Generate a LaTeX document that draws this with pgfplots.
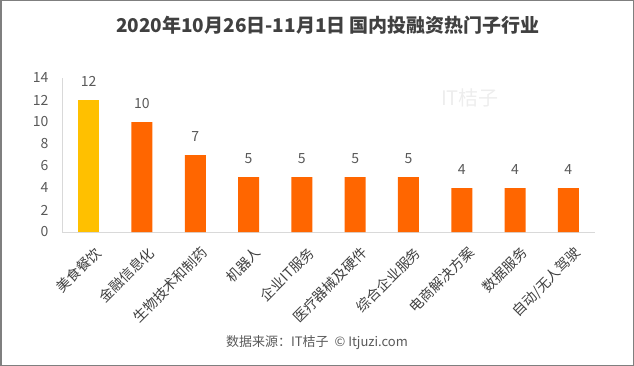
\documentclass[border=0pt]{standalone}
\usepackage{pgfplots}
\pgfplotsset{compat=1.18}
\usepackage{fontspec}
\setmainfont{Noto Sans CJK SC}
\definecolor{barY}{HTML}{FFC000}
\definecolor{barO}{HTML}{FF6600}
\definecolor{txt}{HTML}{595959}
\definecolor{ttl}{HTML}{404040}
\definecolor{spine}{HTML}{D9D9D9}
\definecolor{frame}{HTML}{7F7F7F}
\definecolor{wm}{HTML}{EDEDED}
\begin{document}
\begin{tikzpicture}
\draw[frame, line width=1.5bp] (0.75bp,0.75bp) rectangle (633.25bp,365.25bp);
\node[font=\fontsize{19bp}{22bp}\selectfont\bfseries, text=ttl] at (328bp,341bp) {2020年10月26日-11月1日 国内投融资热门子行业};
\node[font=\fontsize{13bp}{15bp}\selectfont, text=txt] at (317bp,23bp) {数据来源：IT桔子 \ © Itjuzi.com};
\node[font=\fontsize{20bp}{22bp}\selectfont, text=wm] at (470bp,268bp) {IT桔子};
\begin{axis}[
  at={(62bp,134bp)}, anchor=south west,
  width=533bp, height=154bp, scale only axis,
  xmin=-0.5, xmax=9.5, ymin=0, ymax=14,
  ytick={0,2,...,14},
  xtick={0,...,9},
  xticklabels={美食餐饮,金融信息化,生物技术和制药,机器人,企业IT服务,医疗器械及硬件,综合企业服务,电商解决方案,数据服务,自动/无人驾驶},
  x tick label style={rotate=45, anchor=north east, font=\fontsize{14bp}{16bp}\selectfont, text=ttl, inner sep=1bp, yshift=-12bp, xshift=-5bp},
  y tick label style={font=\fontsize{14bp}{16bp}\selectfont, text=txt},
  /pgf/number format/assume math mode=true,
  axis x line*=bottom, axis y line*=left,
  axis line style={spine, line width=1bp, -},
  major tick length=0pt,
  yticklabel style={xshift=-10bp},
  ybar, bar width=21bp,
  nodes near coords,
  every node near coord/.append style={font=\fontsize{14bp}{16bp}\selectfont, text=txt, yshift=10bp},
  clip=false,
]
\addplot[fill=barY, draw=none, bar shift=0pt] coordinates {(0,12)};
\addplot[fill=barO, draw=none, bar shift=0pt] coordinates {(1,10) (2,7) (3,5) (4,5) (5,5) (6,5) (7,4) (8,4) (9,4)};
\end{axis}
\end{tikzpicture}
\end{document}
